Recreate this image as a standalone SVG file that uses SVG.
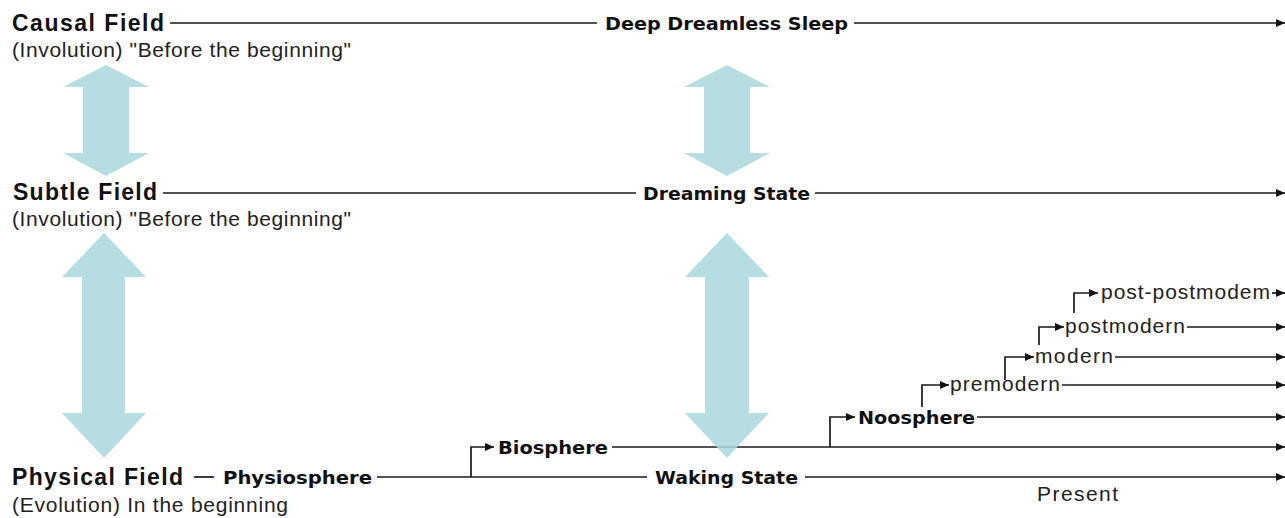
<svg xmlns="http://www.w3.org/2000/svg" width="1285" height="518" viewBox="0 0 1285 518">
<style>
.field{font-family:"Liberation Sans",Arial,sans-serif;font-weight:bold;font-size:23px;fill:#111}
.sub{font-family:"Liberation Sans",Arial,sans-serif;font-size:21px;fill:#222}
.state{font-family:"DejaVu Sans",Verdana,sans-serif;font-weight:bold;font-size:18px;fill:#111}
.era{font-family:"Liberation Sans",Arial,sans-serif;font-size:21px;fill:#222}
.ln{fill:none;stroke:#1a1a1a;stroke-width:1.7}
.big{fill:#a9d8dd;opacity:0.85}
</style>
<defs>
<marker id="ah" markerUnits="userSpaceOnUse" markerWidth="10" markerHeight="9" refX="9" refY="4" orient="auto">
<path d="M0,0 L9,4 L0,8 z" fill="#111"/>
</marker>
</defs>
<rect width="1285" height="518" fill="#fff"/>
<g id="connectors">
<line class="ln" x1="170" y1="23" x2="597" y2="23"/>
<line class="ln" x1="854" y1="23" x2="1285" y2="23" marker-end="url(#ah)"/>
<line class="ln" x1="163" y1="193" x2="636" y2="193"/>
<line class="ln" x1="815" y1="193" x2="1285" y2="193" marker-end="url(#ah)"/>
<line class="ln" x1="194" y1="477" x2="214" y2="477"/>
<line class="ln" x1="377" y1="477" x2="647" y2="477"/>
<line class="ln" x1="805" y1="477" x2="1285" y2="477" marker-end="url(#ah)"/>
<path class="ln" d="M471,477 V447 H494" marker-end="url(#ah)"/>
<line class="ln" x1="612" y1="447" x2="1285" y2="447" marker-end="url(#ah)"/>
<path class="ln" d="M830,447 V417 H855" marker-end="url(#ah)"/>
<line class="ln" x1="977" y1="417" x2="1285" y2="417" marker-end="url(#ah)"/>
<path class="ln" d="M922,407 V385 H949" marker-end="url(#ah)"/>
<line class="ln" x1="1062" y1="385" x2="1285" y2="385" marker-end="url(#ah)"/>
<path class="ln" d="M1005,380 V357 H1034" marker-end="url(#ah)"/>
<line class="ln" x1="1115" y1="357" x2="1285" y2="357" marker-end="url(#ah)"/>
<path class="ln" d="M1039,345 V327 H1064" marker-end="url(#ah)"/>
<line class="ln" x1="1187" y1="327" x2="1285" y2="327" marker-end="url(#ah)"/>
<path class="ln" d="M1074,313 V293 H1098" marker-end="url(#ah)"/>
<line class="ln" x1="1272" y1="293" x2="1285" y2="293" marker-end="url(#ah)"/>
</g>
<g id="arrows">
<polygon class="big" points="106,65 149,87 129,87 129,153 149,153 106,176 63,153 83,153 83,87 63,87"/>
<polygon class="big" points="727,65 770,87 750,87 750,153 770,153 727,176 684,153 704,153 704,87 684,87"/>
<polygon class="big" points="104,233 146,277 125,277 125,413 146,413 104,458 62,413 82,413 82,277 62,277"/>
<polygon class="big" points="727,233 769,277 749,277 749,413 769,413 727,458 685,413 705,413 705,277 685,277"/>
</g>
<g id="causal">
<text class="field" x="12" y="31" textLength="152" lengthAdjust="spacing">Causal Field</text>
<text class="sub" x="12" y="57" textLength="339" lengthAdjust="spacing">(Involution) "Before the beginning"</text>
</g>
<g id="deep-sleep"><text class="state" x="605" y="30" textLength="243" lengthAdjust="spacingAndGlyphs">Deep Dreamless Sleep</text></g>
<g id="subtle">
<text class="field" x="13" y="200" textLength="144" lengthAdjust="spacing">Subtle Field</text>
<text class="sub" x="12" y="226" textLength="339" lengthAdjust="spacing">(Involution) "Before the beginning"</text>
</g>
<g id="dreaming"><text class="state" x="643" y="200" textLength="167" lengthAdjust="spacingAndGlyphs">Dreaming State</text></g>
<g id="physical">
<text class="field" x="12" y="485" textLength="171" lengthAdjust="spacing">Physical Field</text>
<text class="sub" x="12" y="512" textLength="276" lengthAdjust="spacing">(Evolution) In the beginning</text>
</g>
<g id="physiosphere"><text class="state" x="223" y="484" textLength="149" lengthAdjust="spacingAndGlyphs">Physiosphere</text></g>
<g id="waking"><text class="state" x="655" y="484" textLength="143" lengthAdjust="spacingAndGlyphs">Waking State</text></g>
<g id="biosphere"><text class="state" x="498" y="454" textLength="110" lengthAdjust="spacingAndGlyphs">Biosphere</text></g>
<g id="noosphere"><text class="state" x="858" y="424" textLength="117" lengthAdjust="spacingAndGlyphs">Noosphere</text></g>
<g id="premodern"><text class="era" x="950" y="391" textLength="110" lengthAdjust="spacing">premodern</text></g>
<g id="modern"><text class="era" x="1035" y="363" textLength="78" lengthAdjust="spacing">modern</text></g>
<g id="postmodern"><text class="era" x="1065" y="333" textLength="120" lengthAdjust="spacing">postmodern</text></g>
<g id="post-postmodern"><text class="era" x="1101" y="299" textLength="169" lengthAdjust="spacing">post-postmodem</text></g>
<g id="present"><text class="era" x="1037" y="501" textLength="81" lengthAdjust="spacing">Present</text></g>
</svg>
